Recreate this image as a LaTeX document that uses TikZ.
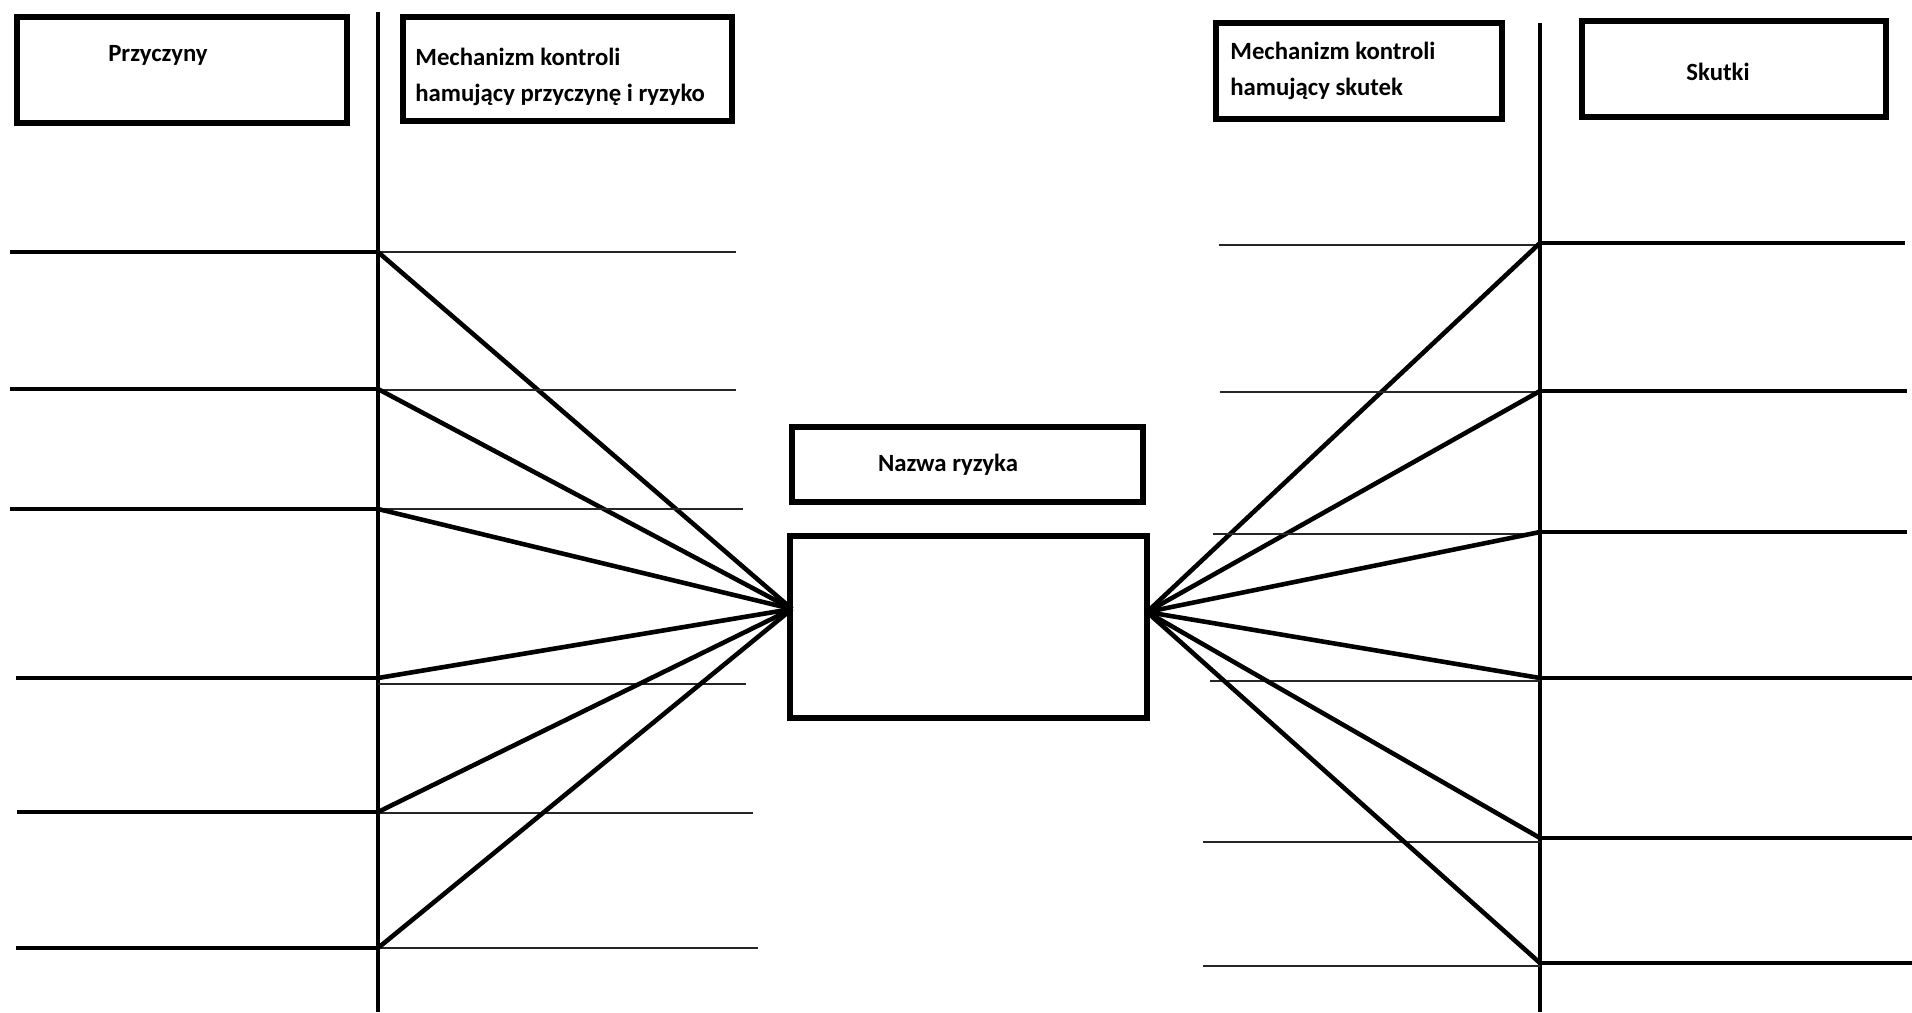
\documentclass[tikz,border=0pt]{standalone}
\usepackage{fontspec}
\setmainfont{Carlito}
\usetikzlibrary{fit}
\begin{document}
\begin{tikzpicture}[x=0.02cm,y=-0.02cm,
  box/.style={draw, line width=3.1pt, inner sep=0pt},
  lbl/.style={font=\bfseries\fontsize{14.1pt}{20.4pt}\selectfont, inner sep=0pt},
  axisline/.style={line width=2.4pt},
  heavy/.style={line width=2.8pt},
  thinline/.style={line width=0.9pt, black!85},
  diag/.style={line width=2.6pt}]
\useasboundingbox (0,0) rectangle (1912,1012);
\fill[white] (0,0) rectangle (1912,1012);

% vertical axes
\coordinate (lt) at (378,12);
\coordinate (lb) at (378,1012);
\coordinate (rt) at (1540,23);
\coordinate (rb) at (1540,1012);
\draw[axisline] (lt) -- (lb);
\draw[axisline] (rt) -- (rb);

% convergence points
\coordinate (cl) at (792,609);
\coordinate (cr) at (1147,612);

% left side
\foreach \n/\y/\xs/\ty/\te in {1/252/10/252/736, 2/389/10/390/736, 3/509/10/509/743, 4/678/16/684/746, 5/812/17/813/753, 6/948/16/948/758}{
  \coordinate (L\n) at (378,\y);
  \coordinate (Ls\n) at (\xs,\y);
  \coordinate (Tl\n) at (378,\ty);
  \coordinate (Te\n) at (\te,\ty);
  \draw[thinline] (Tl\n) -- (Te\n);
  \draw[heavy] (Ls\n) -- (L\n);
  \draw[diag] (L\n) -- (cl);
}

% right side
\foreach \n/\y/\xe/\ty/\ts in {1/243/1905/245/1219, 2/391/1907/392/1220, 3/532/1907/534/1213, 4/678/1912/681/1210, 5/838/1912/842/1203, 6/963/1912/966/1203}{
  \coordinate (R\n) at (1540,\y);
  \coordinate (Re\n) at (\xe,\y);
  \coordinate (Tr\n) at (1540,\ty);
  \coordinate (Ts\n) at (\ts,\ty);
  \draw[thinline] (Ts\n) -- (Tr\n);
  \draw[heavy] (R\n) -- (Re\n);
  \draw[diag] (R\n) -- (cr);
}

% header boxes
\node[box, fit={(17,17) (347,123)}] (bp) {};
\node[lbl] (tp) at (158,55) {Przyczyny};
\node[box, fit={(403,17) (732,121)}] (bm1) {};
\node[lbl, align=left, anchor=west] (tm1) at (415,77) {Mechanizm kontroli\\hamujący przyczynę i ryzyko};
\node[box, fit={(1216,23) (1502,119)}] (bm2) {};
\node[lbl, align=left, anchor=west] (tm2) at (1230,71) {Mechanizm kontroli\\hamujący skutek};
\node[box, fit={(1582,21) (1886,117)}] (bs) {};
\node[lbl] (ts) at (1718,72) {Skutki};

% central boxes
\node[box, fit={(792,427) (1143,502)}] (bn) {};
\node[lbl] (tn) at (948,465) {Nazwa ryzyka};
\node[box, fit={(790,536) (1147,718)}] (bc) {};
\end{tikzpicture}
\end{document}
